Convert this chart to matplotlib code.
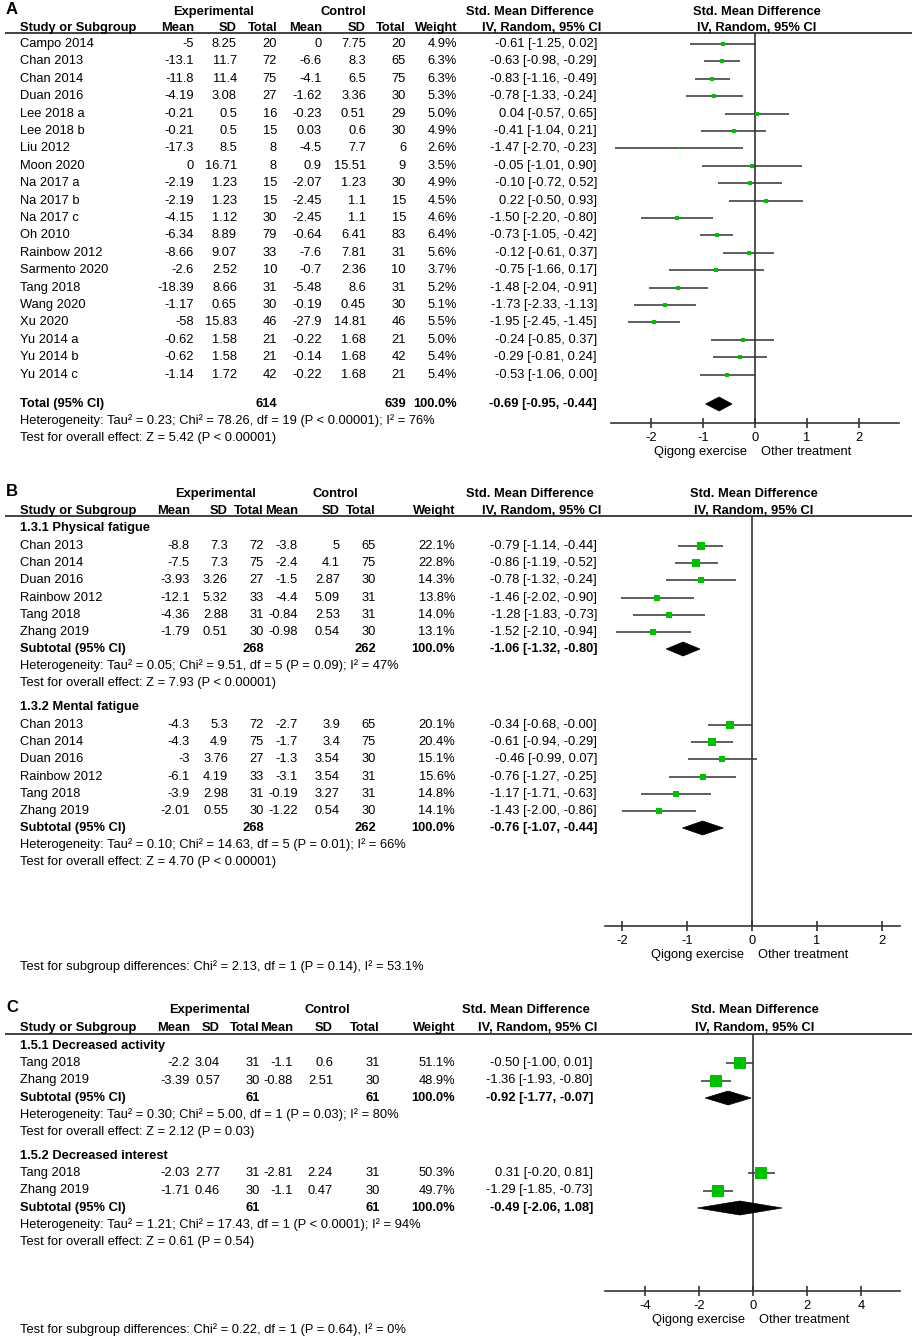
import numpy as np
import matplotlib.pyplot as plt
from matplotlib.patches import Polygon

plt.rcParams['font.family'] = ['Liberation Sans', 'DejaVu Sans']
plt.rcParams['axes.unicode_minus'] = False

W, H = 918, 1339
green = '#00c000'
dark = '#333333'
fs = 9.3

# ---------------- panel A : fatigue overall ----------------
a_study = ['Campo 2014', 'Chan 2013', 'Chan 2014', 'Duan 2016', 'Lee 2018 a', 'Lee 2018 b',
           'Liu 2012', 'Moon 2020', 'Na 2017 a', 'Na 2017 b', 'Na 2017 c', 'Oh 2010',
           'Rainbow 2012', 'Sarmento 2020', 'Tang 2018', 'Wang 2020', 'Xu 2020',
           'Yu 2014 a', 'Yu 2014 b', 'Yu 2014 c']
a_exp_mean = [-5, -13.1, -11.8, -4.19, -0.21, -0.21, -17.3, 0, -2.19, -2.19, -4.15, -6.34,
              -8.66, -2.6, -18.39, -1.17, -58, -0.62, -0.62, -1.14]
a_exp_sd = [8.25, 11.7, 11.4, 3.08, 0.5, 0.5, 8.5, 16.71, 1.23, 1.23, 1.12, 8.89,
            9.07, 2.52, 8.66, 0.65, 15.83, 1.58, 1.58, 1.72]
a_exp_n = [20, 72, 75, 27, 16, 15, 8, 8, 15, 15, 30, 79, 33, 10, 31, 30, 46, 21, 21, 42]
a_ctl_mean = [0, -6.6, -4.1, -1.62, -0.23, 0.03, -4.5, 0.9, -2.07, -2.45, -2.45, -0.64,
              -7.6, -0.7, -5.48, -0.19, -27.9, -0.22, -0.14, -0.22]
a_ctl_sd = [7.75, 8.3, 6.5, 3.36, 0.51, 0.6, 7.7, 15.51, 1.23, 1.1, 1.1, 6.41,
            7.81, 2.36, 8.6, 0.45, 14.81, 1.68, 1.68, 1.68]
a_ctl_n = [20, 65, 75, 30, 29, 30, 6, 9, 30, 15, 15, 83, 31, 10, 31, 30, 46, 21, 42, 21]
a_weight = [4.9, 6.3, 6.3, 5.3, 5.0, 4.9, 2.6, 3.5, 4.9, 4.5, 4.6, 6.4, 5.6, 3.7, 5.2, 5.1,
            5.5, 5.0, 5.4, 5.4]
a_smd = [-0.61, -0.63, -0.83, -0.78, 0.04, -0.41, -1.47, -0.05, -0.10, 0.22, -1.50, -0.73,
         -0.12, -0.75, -1.48, -1.73, -1.95, -0.24, -0.29, -0.53]
a_lo = [-1.25, -0.98, -1.16, -1.33, -0.57, -1.04, -2.70, -1.01, -0.72, -0.50, -2.20, -1.05,
        -0.61, -1.66, -2.04, -2.33, -2.45, -0.85, -0.81, -1.06]
a_hi = [0.02, -0.29, -0.49, -0.24, 0.65, 0.21, -0.23, 0.90, 0.52, 0.93, -0.80, -0.42,
        0.37, 0.17, -0.91, -1.13, -1.45, 0.37, 0.24, 0.00]
a_total = [614, 639, -0.69, -0.95, -0.44]
a_stats = ['Heterogeneity: Tau² = 0.23; Chi² = 78.26, df = 19 (P < 0.00001); I² = 76%',
           'Test for overall effect: Z = 5.42 (P < 0.00001)']

# ---------------- panel B : physical / mental fatigue ----------------
b_groups = ['1.3.1 Physical fatigue', '1.3.2 Mental fatigue']
b_study = ['Chan 2013', 'Chan 2014', 'Duan 2016', 'Rainbow 2012', 'Tang 2018', 'Zhang 2019']
b_exp_mean = [[-8.8, -7.5, -3.93, -12.1, -4.36, -1.79], [-4.3, -4.3, -3, -6.1, -3.9, -2.01]]
b_exp_sd = [[7.3, 7.3, 3.26, 5.32, 2.88, 0.51], [5.3, 4.9, 3.76, 4.19, 2.98, 0.55]]
b_exp_n = [[72, 75, 27, 33, 31, 30], [72, 75, 27, 33, 31, 30]]
b_ctl_mean = [[-3.8, -2.4, -1.5, -4.4, -0.84, -0.98], [-2.7, -1.7, -1.3, -3.1, -0.19, -1.22]]
b_ctl_sd = [[5, 4.1, 2.87, 5.09, 2.53, 0.54], [3.9, 3.4, 3.54, 3.54, 3.27, 0.54]]
b_ctl_n = [[65, 75, 30, 31, 31, 30], [65, 75, 30, 31, 31, 30]]
b_weight = [[22.1, 22.8, 14.3, 13.8, 14.0, 13.1], [20.1, 20.4, 15.1, 15.6, 14.8, 14.1]]
b_smd = [[-0.79, -0.86, -0.78, -1.46, -1.28, -1.52], [-0.34, -0.61, -0.46, -0.76, -1.17, -1.43]]
b_lo = [[-1.14, -1.19, -1.32, -2.02, -1.83, -2.10], [-0.68, -0.94, -0.99, -1.27, -1.71, -2.00]]
b_hi = [[-0.44, -0.52, -0.24, -0.90, -0.73, -0.94], [-0.0, -0.29, 0.07, -0.25, -0.63, -0.86]]
b_subtotal = [[268, 262, -1.06, -1.32, -0.80], [268, 262, -0.76, -1.07, -0.44]]
b_stats = [['Heterogeneity: Tau² = 0.05; Chi² = 9.51, df = 5 (P = 0.09); I² = 47%',
            'Test for overall effect: Z = 7.93 (P < 0.00001)'],
           ['Heterogeneity: Tau² = 0.10; Chi² = 14.63, df = 5 (P = 0.01); I² = 66%',
            'Test for overall effect: Z = 4.70 (P < 0.00001)']]
b_diff = 'Test for subgroup differences: Chi² = 2.13, df = 1 (P = 0.14), I² = 53.1%'

# ---------------- panel C : decreased activity / interest ----------------
c_groups = ['1.5.1 Decreased activity', '1.5.2 Decreased interest']
c_study = ['Tang 2018', 'Zhang 2019']
c_exp_mean = [[-2.2, -3.39], [-2.03, -1.71]]
c_exp_sd = [[3.04, 0.57], [2.77, 0.46]]
c_exp_n = [[31, 30], [31, 30]]
c_ctl_mean = [[-1.1, -0.88], [-2.81, -1.1]]
c_ctl_sd = [[0.6, 2.51], [2.24, 0.47]]
c_ctl_n = [[31, 30], [31, 30]]
c_weight = [[51.1, 48.9], [50.3, 49.7]]
c_smd = [[-0.50, -1.36], [0.31, -1.29]]
c_lo = [[-1.00, -1.93], [-0.20, -1.85]]
c_hi = [[0.01, -0.80], [0.81, -0.73]]
c_subtotal = [[61, 61, -0.92, -1.77, -0.07], [61, 61, -0.49, -2.06, 1.08]]
c_stats = [['Heterogeneity: Tau² = 0.30; Chi² = 5.00, df = 1 (P = 0.03); I² = 80%',
            'Test for overall effect: Z = 2.12 (P = 0.03)'],
           ['Heterogeneity: Tau² = 1.21; Chi² = 17.43, df = 1 (P < 0.0001); I² = 94%',
            'Test for overall effect: Z = 0.61 (P = 0.54)']]
c_diff = 'Test for subgroup differences: Chi² = 0.22, df = 1 (P = 0.64), I² = 0%'

fig = plt.figure(figsize=(W / 100, H / 100), dpi=100)
tax = fig.add_axes([0, 0, 1, 1])
tax.set_xlim(0, W)
tax.set_ylim(H, 0)
tax.axis('off')


def txt(x, y, s, ha='left', bold=False, size=fs):
    tax.text(x, y, s, ha=ha, va='center', fontsize=size,
             fontweight='bold' if bold else 'normal', color='black')


def ci_str(m, lo, hi):
    return '{:.2f} [{:.2f}, {:.2f}]'.format(m, lo, hi)


def headers(lab, y0, y1, line_y, cols, ci_right, exp_c, ctl_c, zero):
    txt(6, y0 - 2, lab, bold=True, size=12)
    txt(exp_c, y0, 'Experimental', ha='center', bold=True)
    txt(ctl_c, y0, 'Control', ha='center', bold=True)
    txt(ci_right - 67, y0, 'Std. Mean Difference', ha='center', bold=True)
    txt(zero + 2, y0, 'Std. Mean Difference', ha='center', bold=True)
    txt(20, y1, 'Study or Subgroup', bold=True)
    for x, s in zip(cols, ['Mean', 'SD', 'Total', 'Mean', 'SD', 'Total', 'Weight']):
        txt(x, y1, s, ha='right', bold=True)
    txt(ci_right - 55, y1, 'IV, Random, 95% CI', ha='center', bold=True)
    txt(zero + 2, y1, 'IV, Random, 95% CI', ha='center', bold=True)
    tax.plot([5, 912], [line_y, line_y], color=dark, lw=1.3, solid_capstyle='butt')


def study_row(y, name, cells, cols, ci_right):
    txt(20, y, name)
    for x, s in zip(cols, cells[:-1]):
        txt(x, y, s, ha='right')
    txt(ci_right, y, cells[-1], ha='right')


def total_row(y, name, tot, cols, ci_right):
    txt(20, y, name, bold=True)
    txt(cols[2], y, str(tot[0]), ha='right', bold=True)
    txt(cols[5], y, str(tot[1]), ha='right', bold=True)
    txt(cols[6], y, '100.0%', ha='right', bold=True)
    txt(ci_right, y, ci_str(*tot[2:]), ha='right', bold=True)


def forest_axes(line_y, axis_y, left, right, zero, unit, ticks):
    ax = fig.add_axes([left / W, 1 - axis_y / H, (right - left) / W, (axis_y - line_y) / H])
    ax.set_xlim((left - zero) / unit, (right - zero) / unit)
    ax.set_ylim(axis_y, line_y)
    for s in ['top', 'left', 'right']:
        ax.spines[s].set_visible(False)
    ax.spines['bottom'].set_color(dark)
    ax.spines['bottom'].set_linewidth(1.2)
    ax.set_yticks([])
    ax.set_xticks(ticks)
    ax.set_xticklabels(['{:g}'.format(t) for t in ticks])
    ax.tick_params(axis='x', direction='inout', length=7, width=1.2, color=dark,
                   pad=3, labelsize=fs)
    ax.axvline(0, color=dark, lw=1.2)
    ax.patch.set_visible(False)
    txt(zero - 8, axis_y + 29, 'Qigong exercise', ha='right')
    txt(zero + 6, axis_y + 29, 'Other treatment', ha='left')
    return ax


def mark(ax, y, m, lo, hi, w):
    ax.hlines(y, lo, hi, color=dark, lw=1.1, zorder=2)
    side = 1.65 * np.sqrt(w) * 0.72
    ax.scatter([m], [y], marker='s', s=side ** 2, color=green, linewidths=0, zorder=3)


def diamond(ax, y, m, lo, hi):
    ax.add_patch(Polygon([(lo, y), (m, y - 7), (hi, y), (m, y + 7)], closed=True,
                         facecolor='black', edgecolor='black', lw=0.5, zorder=3))


def fmt(v):
    return '{:g}'.format(v)


# ---------------- draw panel A ----------------
colsA = [194, 237, 277, 322, 366, 406, 457]
ciA = 597
headers('A', 12, 28, 33, colsA, ciA, 214, 343, 755)
axA = forest_axes(33, 423, 611, 899, 755, 52, [-2, -1, 0, 1, 2])
for i in range(len(a_study)):
    y = 44 + i * 17.4
    cells = [fmt(a_exp_mean[i]), fmt(a_exp_sd[i]), str(a_exp_n[i]), fmt(a_ctl_mean[i]),
             fmt(a_ctl_sd[i]), str(a_ctl_n[i]), '{:.1f}%'.format(a_weight[i]),
             ci_str(a_smd[i], a_lo[i], a_hi[i])]
    study_row(y, a_study[i], cells, colsA, ciA)
    mark(axA, y, a_smd[i], a_lo[i], a_hi[i], a_weight[i])
total_row(404, 'Total (95% CI)', a_total, colsA, ciA)
diamond(axA, 404, *a_total[2:])
txt(20, 421, a_stats[0])
txt(20, 438, a_stats[1])

# ---------------- draw panel B ----------------
colsB = [190, 228, 264, 298, 340, 376, 455]
ciB = 597
headers('B', 494, 511, 516, colsB, ciB, 216, 335, 752)
axB = forest_axes(516, 926, 605, 900, 752, 65, [-2, -1, 0, 1, 2])
for g, g0 in enumerate([528, 707]):
    txt(20, g0, b_groups[g], bold=True)
    for i in range(len(b_study)):
        y = g0 + 18 + i * 17.2
        cells = [fmt(b_exp_mean[g][i]), fmt(b_exp_sd[g][i]), str(b_exp_n[g][i]),
                 fmt(b_ctl_mean[g][i]), fmt(b_ctl_sd[g][i]), str(b_ctl_n[g][i]),
                 '{:.1f}%'.format(b_weight[g][i]),
                 ci_str(b_smd[g][i], b_lo[g][i], b_hi[g][i])]
        study_row(y, b_study[i], cells, colsB, ciB)
        mark(axB, y, b_smd[g][i], b_lo[g][i], b_hi[g][i], b_weight[g][i])
    total_row(g0 + 121, 'Subtotal (95% CI)', b_subtotal[g], colsB, ciB)
    diamond(axB, g0 + 121, *b_subtotal[g][2:])
    txt(20, g0 + 138, b_stats[g][0])
    txt(20, g0 + 155, b_stats[g][1])
txt(20, 967, b_diff)

# ---------------- draw panel C ----------------
colsC = [190, 220, 260, 293, 333, 380, 455]
ciC = 593
headers('C', 1010, 1028, 1034, colsC, ciC, 210, 327, 753)
axC = forest_axes(1034, 1291, 605, 900, 753, 27, [-4, -2, 0, 2, 4])
for g, g0 in enumerate([1046, 1156]):
    txt(20, g0, c_groups[g], bold=True)
    for i in range(len(c_study)):
        y = g0 + 17 + i * 17.5
        cells = [fmt(c_exp_mean[g][i]), fmt(c_exp_sd[g][i]), str(c_exp_n[g][i]),
                 fmt(c_ctl_mean[g][i]), fmt(c_ctl_sd[g][i]), str(c_ctl_n[g][i]),
                 '{:.1f}%'.format(c_weight[g][i]),
                 ci_str(c_smd[g][i], c_lo[g][i], c_hi[g][i])]
        study_row(y, c_study[i], cells, colsC, ciC)
        mark(axC, y, c_smd[g][i], c_lo[g][i], c_hi[g][i], c_weight[g][i])
    total_row(g0 + 52, 'Subtotal (95% CI)', c_subtotal[g], colsC, ciC)
    diamond(axC, g0 + 52, *c_subtotal[g][2:])
    txt(20, g0 + 69, c_stats[g][0])
    txt(20, g0 + 86, c_stats[g][1])
txt(20, 1330, c_diff)

fig.savefig('out.png', dpi=100)
